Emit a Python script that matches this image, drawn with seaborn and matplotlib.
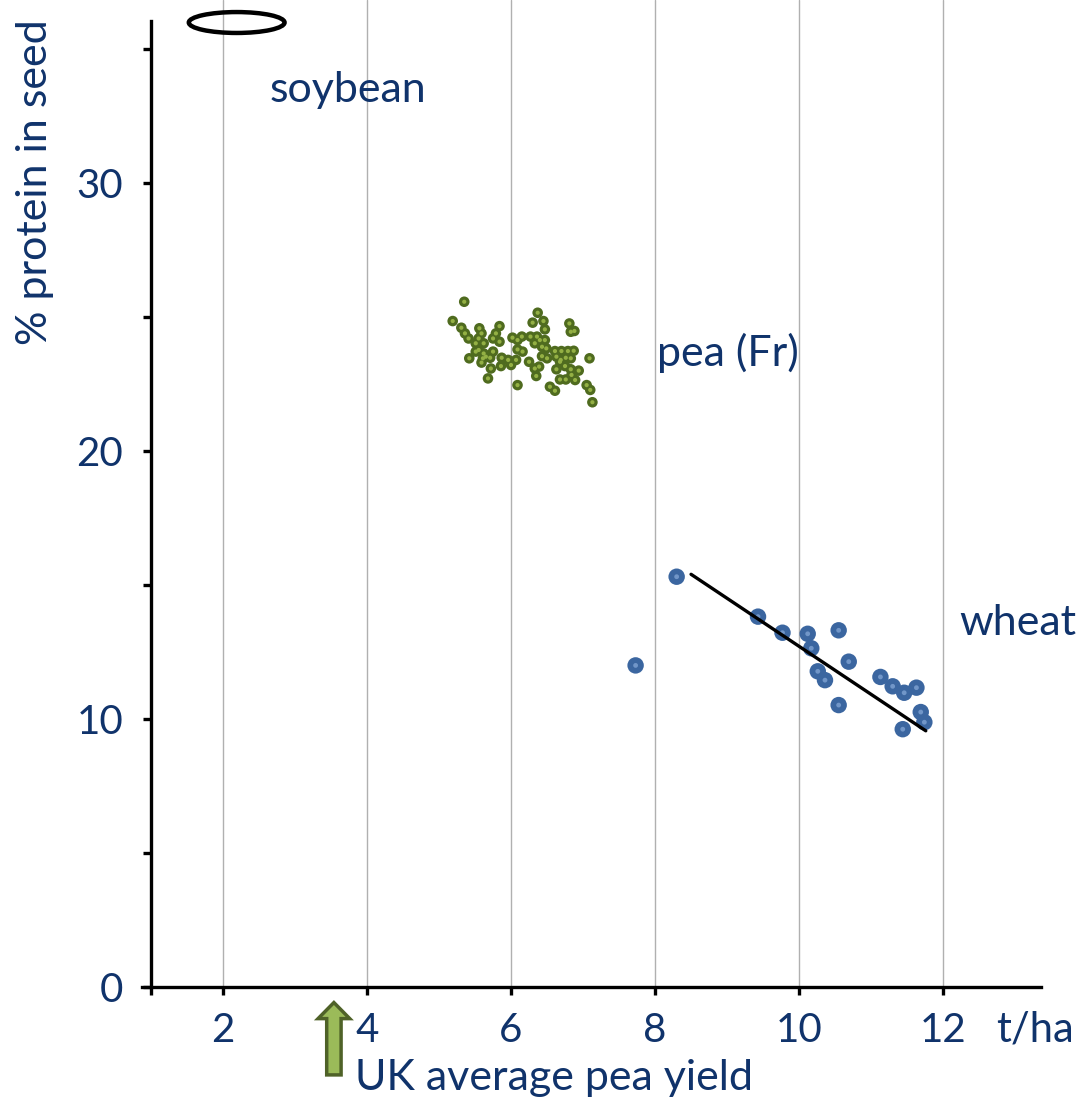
import numpy as np
import pandas as pd
import matplotlib
matplotlib.use('Agg')
import matplotlib.pyplot as plt
import matplotlib.patches as mpatches
import seaborn as sns

# pea (France) yield vs protein
pea_yield = [5.35, 5.19, 5.31, 5.56, 5.84, 5.36, 5.41, 5.59, 5.79, 5.55, 5.75, 5.84, 6.02, 6.15, 6.27,
             6.37, 6.30, 6.45, 6.47, 6.81, 6.83, 6.88, 6.33, 6.40, 6.47, 6.43, 6.49, 6.36, 5.51, 5.62,
             5.55, 5.51, 5.75, 5.62, 5.42, 5.61, 5.71, 5.87, 5.96, 6.07, 5.59, 5.86, 6.00, 5.72, 5.68,
             6.09, 6.16, 6.09, 6.25, 6.43, 6.50, 6.09, 6.33, 6.39, 6.35, 6.61, 6.70, 6.79, 6.87, 6.63,
             6.69, 6.76, 6.83, 6.63, 6.68, 6.75, 6.83, 6.94, 7.09, 6.68, 6.76, 6.89, 6.84, 6.54, 6.61,
             7.05, 7.10, 7.13, 5.65]
pea_protein = [25.57, 24.85, 24.60, 24.58, 24.66, 24.39, 24.20, 24.39, 24.39, 24.20, 24.20, 24.08, 24.23, 24.27, 24.27,
               25.16, 24.79, 24.85, 24.54, 24.76, 24.45, 24.48, 24.02, 24.14, 24.14, 23.89, 23.83, 24.27, 24.02, 24.02,
               23.77, 23.71, 23.71, 23.64, 23.46, 23.46, 23.48, 23.48, 23.40, 23.40, 23.30, 23.17, 23.21, 23.08, 22.71,
               24.14, 23.71, 23.79, 23.33, 23.54, 23.46, 22.46, 23.08, 23.15, 22.80, 23.73, 23.73, 23.73, 23.74, 23.52,
               23.40, 23.48, 23.46, 23.05, 23.33, 23.17, 23.05, 23.00, 23.46, 22.67, 22.67, 22.65, 22.84, 22.40, 22.25,
               22.46, 22.28, 21.82, 23.52]

# wheat yield vs protein
wheat_yield = [8.30, 7.73, 9.43, 9.77, 10.12, 10.55, 10.17, 10.69, 10.26, 10.36, 10.55, 11.13, 11.30, 11.46,
               11.63, 11.69, 11.74, 11.44]
wheat_protein = [15.31, 12.00, 13.82, 13.22, 13.18, 13.31, 12.64, 12.14, 11.78, 11.45, 10.52, 11.57, 11.22,
                 10.98, 11.17, 10.26, 9.88, 9.62]
wheat_fit_x = [8.50, 11.76]
wheat_fit_y = [15.40, 9.56]

x_ticks = [2, 4, 6, 8, 10, 12]
y_ticks = [0, 10, 20, 30]

navy = '#10336b'
font = ['Lato', 'DejaVu Sans']

pea_df = pd.DataFrame({'yield': pea_yield, 'protein': pea_protein})
wheat_df = pd.DataFrame({'yield': wheat_yield, 'protein': wheat_protein})
fit_df = pd.DataFrame({'yield': wheat_fit_x, 'protein': wheat_fit_y})

sns.set_style('white')
plt.rcParams['font.family'] = font

fig = plt.figure(figsize=(10.85, 11.05), dpi=100)
ax = fig.add_axes([142 / 1085, 118 / 1105, 899 / 1085, 987 / 1105])

# gridlines
for xv in x_ticks:
    ax.axvline(xv, color='#b0b0b0', lw=1.0, zorder=0)

# pea points: dark olive ring with lighter centre
sns.scatterplot(data=pea_df, x='yield', y='protein', ax=ax, s=58, color='#4f6b1f',
                edgecolor='none', zorder=3, legend=False)
sns.scatterplot(data=pea_df, x='yield', y='protein', ax=ax, s=9, color='#94b044',
                edgecolor='none', zorder=4, legend=False)

# wheat points
sns.scatterplot(data=wheat_df, x='yield', y='protein', ax=ax, s=140, color='#3b66a0',
                edgecolor='none', zorder=3, legend=False)
sns.scatterplot(data=wheat_df, x='yield', y='protein', ax=ax, s=12, color='#7196c8',
                edgecolor='none', zorder=4, legend=False)

sns.lineplot(data=fit_df, x='yield', y='protein', ax=ax, color='black', lw=2.4, zorder=5)

# soybean ellipse
ax.add_patch(mpatches.Ellipse((2.19, 35.99), 1.33, 0.78, fill=False, edgecolor='black',
                              lw=3.2, clip_on=False, zorder=6))

# UK average pea yield arrow
ax.add_patch(mpatches.FancyArrow(3.54, -3.28, 0, 2.1, width=0.2, head_width=0.44,
                                 head_length=0.6, length_includes_head=False,
                                 facecolor='#9bbb59', edgecolor='#4f6228', lw=2.5,
                                 clip_on=False, zorder=6))

# labels
ax.text(2.65, 33.02, 'soybean', color=navy, fontsize=31, ha='left', va='baseline')
ax.text(8.03, 23.17, 'pea (Fr)', color=navy, fontsize=31, ha='left', va='baseline')
ax.text(12.22, 13.13, 'wheat', color=navy, fontsize=31, ha='left', va='baseline')
ax.text(3.83, -3.84, 'UK average pea yield', color=navy, fontsize=31, ha='left',
        va='baseline', clip_on=False)
ax.text(12.73, -2.05, 't/ha', color=navy, fontsize=30, ha='left', va='baseline', clip_on=False)
fig.text(35 / 1085, 1 - 182 / 1105, '% protein in seed', color=navy, fontsize=31,
         rotation=90, ha='center', va='center')

ax.set_xlim(0.875, 13.36)
ax.set_ylim(0, 36.83)
ax.set_xlabel('')
ax.set_ylabel('')

ax.spines['top'].set_visible(False)
ax.spines['right'].set_visible(False)
ax.spines['left'].set_position(('data', 1))
ax.spines['left'].set_bounds(0, 36.04)
for side in ['left', 'bottom']:
    ax.spines[side].set_color('black')
    ax.spines[side].set_linewidth(2.4)

ax.set_xticks(x_ticks)
ax.set_xticks([1], minor=True)
ax.set_yticks(y_ticks)
ax.set_yticks([5, 15, 25, 35], minor=True)
ax.tick_params(axis='both', which='both', direction='out', length=6, width=2.4,
               color='black', labelcolor=navy, labelsize=29)
ax.tick_params(axis='x', which='both', bottom=True, pad=12)
ax.tick_params(axis='y', which='both', left=True, pad=14)

fig.savefig('out.png', dpi=100)
